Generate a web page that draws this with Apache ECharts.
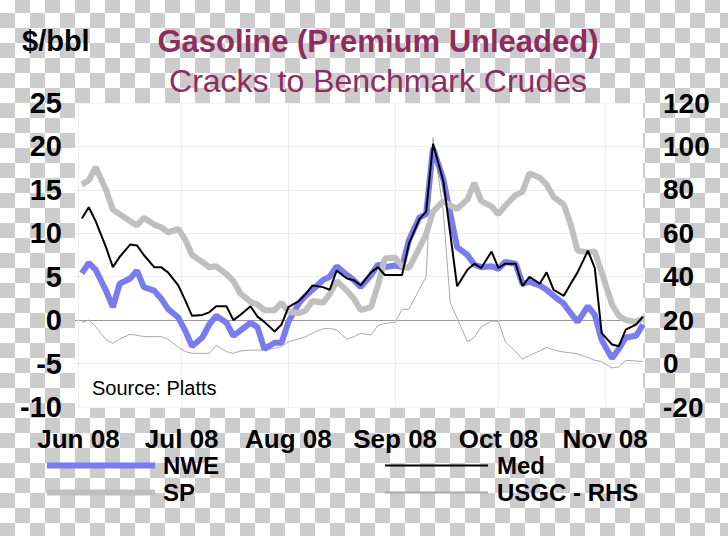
<!DOCTYPE html>
<html><head><meta charset="utf-8">
<script src="https://cdn.jsdelivr.net/npm/echarts@6/dist/echarts.min.js"></script>
<style>
html,body{margin:0;padding:0;width:728px;height:536px;overflow:hidden;}
body{background-color:#fff;background-image:repeating-conic-gradient(#cccccc 0 25%, #ffffff 0 50%);background-size:30px 30px;background-position:0 -2px;}
#chart{width:728px;height:536px;}
</style></head><body><div id="chart"></div>
<script>
// Sample dates (Mon/Wed/Fri)
const sampleDates = [
 '2008-06-02','2008-06-04','2008-06-06','2008-06-09','2008-06-11','2008-06-13','2008-06-16','2008-06-18','2008-06-20','2008-06-23','2008-06-25','2008-06-27','2008-06-30',
 '2008-07-02','2008-07-04','2008-07-07','2008-07-09','2008-07-11','2008-07-14','2008-07-16','2008-07-18','2008-07-21','2008-07-23','2008-07-25','2008-07-28','2008-07-30',
 '2008-08-01','2008-08-04','2008-08-06','2008-08-08','2008-08-11','2008-08-13','2008-08-15','2008-08-18','2008-08-20','2008-08-22','2008-08-25','2008-08-27','2008-08-29',
 '2008-09-01','2008-09-03','2008-09-05','2008-09-08','2008-09-10','2008-09-12','2008-09-15','2008-09-17','2008-09-19','2008-09-22','2008-09-24','2008-09-26','2008-09-29',
 '2008-10-01','2008-10-03','2008-10-06','2008-10-08','2008-10-10','2008-10-13','2008-10-15','2008-10-17','2008-10-20','2008-10-22','2008-10-24','2008-10-27','2008-10-29','2008-10-31',
 '2008-11-03','2008-11-05','2008-11-07','2008-11-10','2008-11-12'
];
const nwe = [5.4,6.6,5.8,3.4,1.5,4.2,4.8,5.7,3.8,3.4,2.5,1.3,0.3,
 -1.2,-3.0,-2.0,-0.5,0.5,-0.3,-1.8,-1.2,-0.3,-0.8,-3.3,-2.6,-2.6,
 -0.2,1.9,2.8,3.5,4.6,5.0,6.2,5.2,4.6,3.8,5.2,6.4,6.1,
 6.3,6.1,9.2,11.8,12.2,19.8,16.2,12.3,8.4,7.5,6.4,6.1,6.2,
 5.9,6.7,6.5,4.2,4.4,4.0,3.5,2.8,1.9,0.8,-0.2,1.6,0.6,-2.3,
 -4.4,-3.3,-2.0,-1.8,-0.5];
const med = [11.7,13.0,11.4,8.4,6.1,7.3,8.7,8.6,7.5,6.1,6.1,5.5,4.0,
 2.3,0.5,0.6,0.9,1.6,1.6,0.0,0.6,1.6,0.4,-0.2,-1.3,-0.5,
 1.5,2.2,3.0,4.0,3.8,3.5,5.7,4.8,4.6,4.0,5.5,6.1,5.2,
 5.2,5.2,8.8,11.6,12.5,20.3,16.0,10.0,3.9,5.8,6.5,6.0,7.9,
 6.0,6.5,6.5,3.9,5.0,4.2,5.5,3.5,2.8,4.2,5.5,8.0,6.0,-1.5,
 -2.8,-3.0,-1.1,-0.5,0.4];
const sp = [15.6,16.1,17.6,15.0,12.7,12.2,11.4,10.9,11.8,11.0,10.7,10.1,10.5,
 9.3,7.5,6.7,6.1,6.2,5.3,4.5,3.1,2.1,1.8,1.15,1.15,2.0,
 1.0,0.8,1.1,2.2,2.0,3.0,4.5,3.4,2.5,1.15,1.5,4.0,7.1,
 7.2,6.2,6.0,8.3,9.9,12.5,13.7,13.2,12.8,13.9,15.8,13.7,13.1,
 12.2,13.2,14.4,14.8,16.9,16.4,15.6,14.2,13.3,11.0,8.0,7.8,7.9,5.5,
 1.8,0.5,0.0,-0.2,0.2];
const usgc = [19.0,20.0,17.0,11.0,9.3,11.3,13.5,13.0,12.4,12.4,12.4,11.2,7.5,
 5.6,4.7,4.7,4.7,8.4,5.5,4.7,5.8,6.2,6.2,6.2,7.0,7.8,
 10.0,11.4,12.3,14.0,16.0,16.2,15.5,11.2,12.4,13.9,13.2,17.5,18.5,
 19.0,25.0,25.0,34.0,40.0,104.0,70.0,28.0,21.0,10.0,12.0,17.0,19.5,
 19.5,10.0,5.5,2.0,3.8,5.8,7.5,6.3,5.3,5.0,4.4,2.8,1.5,0.9,
 -2.0,-1.5,1.5,1.2,0.9];
const monthTickLabels = ['Jun 08','Jul 08','Aug 08','Sep 08','Oct 08','Nov 08'];
const leftTicks = {min:-10, max:25, interval:5};
const rightTicks = {min:-20, max:120, interval:20};

// calendar-day categories
const cats = [];
(function(){
  let t = Date.UTC(2008,4,31); const end = Date.UTC(2008,10,12);
  while (t <= end) { cats.push(new Date(t).toISOString().slice(0,10)); t += 86400000; }
})();
const toData = arr => sampleDates.map((d,i)=>[cats.indexOf(d), arr[i]]);

const FF = "'Liberation Sans', Arial, sans-serif";
const chart = echarts.init(document.getElementById('chart'), null, {renderer:'svg'});
chart.setOption({
  animation:false,
  backgroundColor:'transparent',
  grid:{left:75,right:85,top:103,bottom:129,show:true,backgroundColor:'#ffffff',borderWidth:0},
  xAxis:{type:'category',data:cats,boundaryGap:false,
    axisLine:{show:false},axisTick:{show:false},
    axisLabel:{interval:(i,v)=>cats[i].slice(8,10)==='01',margin:18,color:'#000',fontSize:26,lineHeight:27,fontWeight:'bold',fontFamily:FF,
      formatter:v=>monthTickLabels[parseInt(v.slice(5,7),10)-6]},
    splitLine:{show:true,interval:(i,v)=>cats[i].slice(8,10)==='01',lineStyle:{color:'#ececec',width:1}}},
  yAxis:[
    {type:'value',min:leftTicks.min,max:leftTicks.max,interval:leftTicks.interval,position:'left',
      axisLine:{show:false},axisTick:{show:false},
      axisLabel:{margin:13,color:'#000',fontSize:29,fontWeight:'bold',fontFamily:FF},
      splitLine:{show:true,lineStyle:{width:1,color:['#f4f4f4','#ececec','#9a9a9a','#ececec','#ececec','#ececec','#ececec','#f4f4f4']}}},
    {type:'value',min:rightTicks.min,max:rightTicks.max,interval:rightTicks.interval,position:'right',
      axisLine:{show:false},axisTick:{show:false},splitLine:{show:false},
      axisLabel:{margin:20,color:'#000',fontSize:28,fontWeight:'bold',fontFamily:FF}}
  ],
  legend:[
    {left:47,top:452,orient:'vertical',itemGap:0,itemWidth:108,itemHeight:6,icon:'rect',padding:0,selectedMode:false,
      data:['NWE','SP'],textStyle:{fontSize:24,lineHeight:27,fontWeight:'bold',color:'#000',fontFamily:FF,padding:[0,0,0,3]}},
    {left:385,top:452,orient:'vertical',itemGap:0,itemWidth:103,itemHeight:2,icon:'rect',padding:0,selectedMode:false,
      data:['Med','USGC - RHS'],textStyle:{fontSize:24,lineHeight:27,fontWeight:'bold',color:'#000',fontFamily:FF,padding:[0,0,0,4]}}
  ],
  graphic:[
    {type:'text',left:22,top:26,style:{text:'$/bbl',font:"bold 29px "+FF,fill:'#000'}},
    {type:'text',x:378,y:41,style:{text:'Gasoline (Premium Unleaded)',font:"bold 31px "+FF,fill:'#8e2c60',textAlign:'center',textVerticalAlign:'middle'}},
    {type:'text',x:378,y:81,style:{text:'Cracks to Benchmark Crudes',font:"32px "+FF,fill:'#8e2c60',textAlign:'center',textVerticalAlign:'middle'}},
    {type:'text',x:92,y:388,z:10,style:{text:'Source: Platts',font:"20px "+FF,fill:'#000',textVerticalAlign:'middle'}}
  ],
  series:[
    {name:'USGC - RHS',type:'line',yAxisIndex:1,data:toData(usgc),symbol:'none',color:'#aaaaaa',
      lineStyle:{color:'#aaaaaa',width:1},itemStyle:{color:'#aaaaaa'},z:2},
    {name:'NWE',type:'line',data:toData(nwe),symbol:'none',color:'#7b7bf0',
      lineStyle:{color:'#7b7bf0',width:6},itemStyle:{color:'#7b7bf0'},z:3},
    {name:'SP',type:'line',data:toData(sp),symbol:'none',color:'#bfbfbf',
      lineStyle:{color:'#bfbfbf',width:6},itemStyle:{color:'#bfbfbf'},z:4},
    {name:'Med',type:'line',data:toData(med),symbol:'none',color:'#000000',
      lineStyle:{color:'#000000',width:2},itemStyle:{color:'#000000'},z:5}
  ]
});
</script></body></html>
